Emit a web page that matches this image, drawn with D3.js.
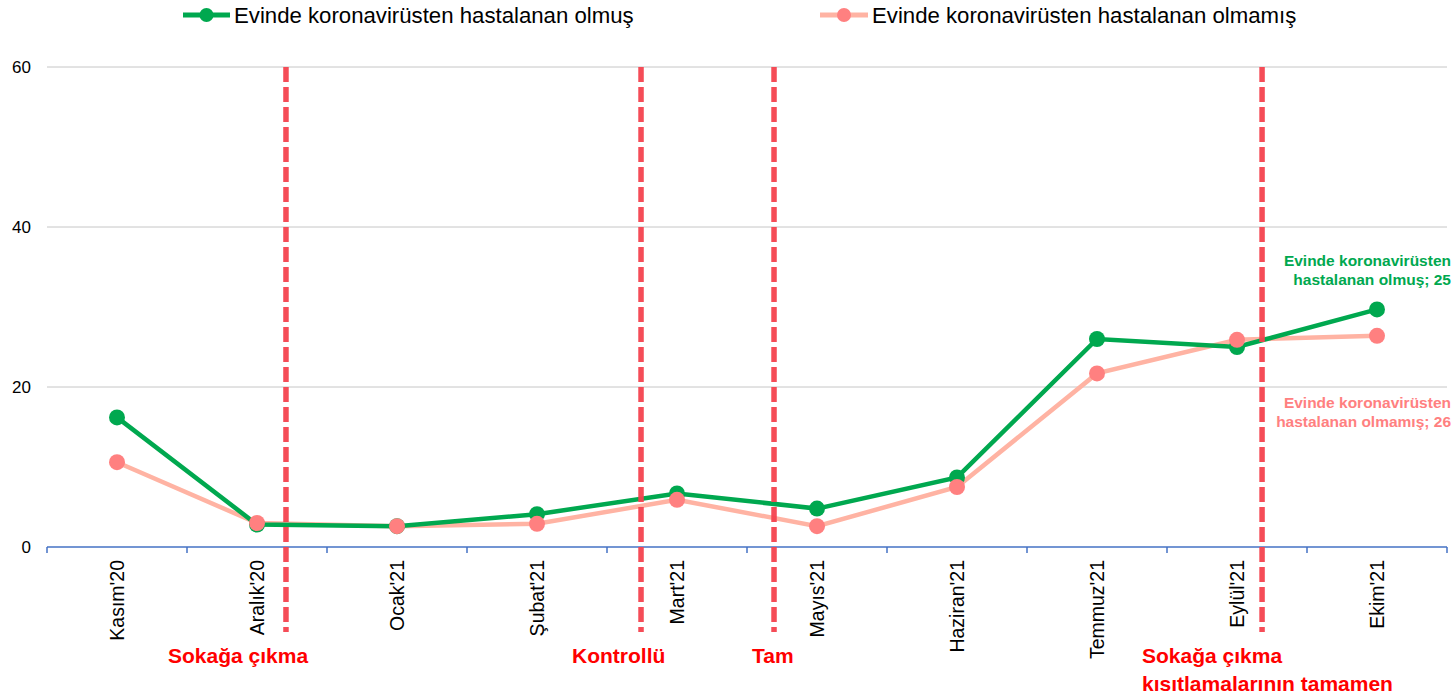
<!DOCTYPE html>
<html>
<head>
<meta charset="utf-8">
<script src="https://cdn.jsdelivr.net/npm/d3@7"></script>
<style>
  body { margin: 0; background: #fff; }
  text { font-family: "Liberation Sans", Arial, sans-serif; }
</style>
</head>
<body>
<script>
// data
var months = ["Kasım'20", "Aralık'20", "Ocak'21", "Şubat'21", "Mart'21", "Mayıs'21", "Haziran'21", "Temmuz'21", "Eylül'21", "Ekim'21"];
var sick = [16.2, 2.8, 2.6, 4.1, 6.7, 4.8, 8.7, 26.0, 25.0, 29.7];
var notSick = [10.6, 3.0, 2.6, 2.9, 5.9, 2.6, 7.5, 21.7, 25.9, 26.4];
var yTicks = [0, 20, 40, 60];
var seriesNames = ["Evinde koronavirüsten hastalanan olmuş", "Evinde koronavirüsten hastalanan olmamış"];
// dashed markers sit between categories (index + offset)
var events = [
  { pos: 1.707, lines: ["Sokağa çıkma"] },
  { pos: 4.243, lines: ["Kontrollü"] },
  { pos: 5.193, lines: ["Tam"] },
  { pos: 8.679, lines: ["Sokağa çıkma", "kısıtlamalarının tamamen"] }
];

var width = 1454, height = 698;
var margin = { top: 67, left: 47, right: 7, bottom: 151 };

var svg = d3.select("body").append("svg")
    .attr("width", width)
    .attr("height", height);

var x = d3.scaleBand()
    .domain(months)
    .range([margin.left, width - margin.right]);

var y = d3.scaleLinear()
    .domain([0, 60])
    .range([height - margin.bottom, margin.top]);

var green = "#00a84f", pinkLine = "#ffb3a3", pinkDot = "#ff8080", red = "#f5434f";

// gridlines
svg.selectAll(".grid")
    .data(yTicks.filter(function(d) { return d > 0; }))
    .enter().append("line")
    .attr("x1", margin.left).attr("x2", width - margin.right)
    .attr("y1", function(d) { return y(d); })
    .attr("y2", function(d) { return y(d); })
    .attr("stroke", "#c6c6c6")
    .attr("stroke-width", 1);

// y labels
svg.selectAll(".ylab")
    .data(yTicks)
    .enter().append("text")
    .attr("x", 31)
    .attr("y", function(d) { return y(d); })
    .attr("dy", "0.35em")
    .attr("text-anchor", "end")
    .style("font-size", "17px")
    .attr("fill", "#000")
    .text(function(d) { return d; });

// x axis
var bounds = months.map(function(m) { return x(m); }).concat([width - margin.right]);
svg.append("line")
    .attr("x1", margin.left).attr("x2", width - margin.right)
    .attr("y1", y(0)).attr("y2", y(0))
    .attr("stroke", "#4472c4").attr("stroke-width", 1.5);
svg.selectAll(".xtick")
    .data(bounds)
    .enter().append("line")
    .attr("x1", function(d) { return d; }).attr("x2", function(d) { return d; })
    .attr("y1", y(0)).attr("y2", y(0) + 6)
    .attr("stroke", "#4472c4").attr("stroke-width", 1.5);

svg.selectAll(".xlab")
    .data(months)
    .enter().append("text")
    .attr("transform", function(d) {
        return "translate(" + (x(d) + x.bandwidth() / 2) + "," + (y(0) + 13) + ") rotate(-90)";
    })
    .attr("dy", "0.35em")
    .attr("text-anchor", "end")
    .style("font-size", "19.5px")
    .text(function(d) { return d; });

// lines
var line = function(vals) {
    return d3.line()
        .x(function(d, i) { return x(months[i]) + x.bandwidth() / 2; })
        .y(function(d) { return y(d); })(vals);
};

svg.append("path")
    .attr("d", line(notSick))
    .attr("fill", "none")
    .attr("stroke", pinkLine)
    .attr("stroke-width", 4.5);
svg.append("path")
    .attr("d", line(sick))
    .attr("fill", "none")
    .attr("stroke", green)
    .attr("stroke-width", 4.5);

svg.selectAll(".dotG")
    .data(sick)
    .enter().append("circle")
    .attr("cx", function(d, i) { return x(months[i]) + x.bandwidth() / 2; })
    .attr("cy", function(d) { return y(d); })
    .attr("r", 8)
    .attr("fill", green);
svg.selectAll(".dotP")
    .data(notSick)
    .enter().append("circle")
    .attr("cx", function(d, i) { return x(months[i]) + x.bandwidth() / 2; })
    .attr("cy", function(d) { return y(d); })
    .attr("r", 8)
    .attr("fill", pinkDot);

// event dashed lines
function evX(p) { return margin.left + p * x.step(); }
svg.selectAll(".ev")
    .data(events)
    .enter().append("line")
    .attr("x1", function(d) { return evX(d.pos); })
    .attr("x2", function(d) { return evX(d.pos); })
    .attr("y1", y(60)).attr("y2", 632)
    .attr("stroke", red)
    .attr("stroke-width", 5.5)
    .attr("stroke-dasharray", "15,5")
    .attr("opacity", 0.95);

// event labels
var evLabelX = [168, 572, 752, 1142];
events.forEach(function(e, i) {
    var t = svg.append("text")
        .attr("x", evLabelX[i])
        .attr("y", 663)
        .style("font-family", "'Liberation Sans Narrow', 'Arial Narrow', sans-serif")
        .style("font-size", "21px")
        .style("font-weight", "bold")
        .attr("fill", "#ff0000");
    e.lines.forEach(function(l, j) {
        t.append("tspan").attr("x", evLabelX[i]).attr("dy", j ? 28 : 0).text(l);
    });
});

// end data labels
var endLabels = [
    { lines: ["Evinde koronavirüsten", "hastalanan olmuş; 25"], color: green, y: 266 },
    { lines: ["Evinde koronavirüsten", "hastalanan olmamış; 26"], color: pinkDot, y: 408 }
];
endLabels.forEach(function(l) {
    var t = svg.append("text")
        .attr("y", l.y)
        .attr("text-anchor", "end")
        .style("font-size", "15.5px")
        .style("font-weight", "bold")
        .attr("fill", l.color);
    l.lines.forEach(function(s, j) {
        t.append("tspan").attr("x", 1451).attr("dy", j ? 19 : 0).text(s);
    });
});

// legend
var legend = [
    { name: seriesNames[0], line: green, dot: green, x: 183, w: 47 },
    { name: seriesNames[1], line: pinkLine, dot: pinkDot, x: 820, w: 48 }
];
legend.forEach(function(l) {
    svg.append("line")
        .attr("x1", l.x).attr("x2", l.x + l.w)
        .attr("y1", 15).attr("y2", 15)
        .attr("stroke", l.line).attr("stroke-width", 5);
    svg.append("circle")
        .attr("cx", l.x + l.w / 2).attr("cy", 15).attr("r", 7)
        .attr("fill", l.dot);
    svg.append("text")
        .attr("x", l.x + l.w + 4)
        .attr("y", 15)
        .attr("dy", "0.35em")
        .style("font-family", "'Liberation Sans Narrow', 'Arial Narrow', sans-serif")
        .style("font-size", "22.2px")
        .text(l.name);
});
</script>
</body>
</html>
